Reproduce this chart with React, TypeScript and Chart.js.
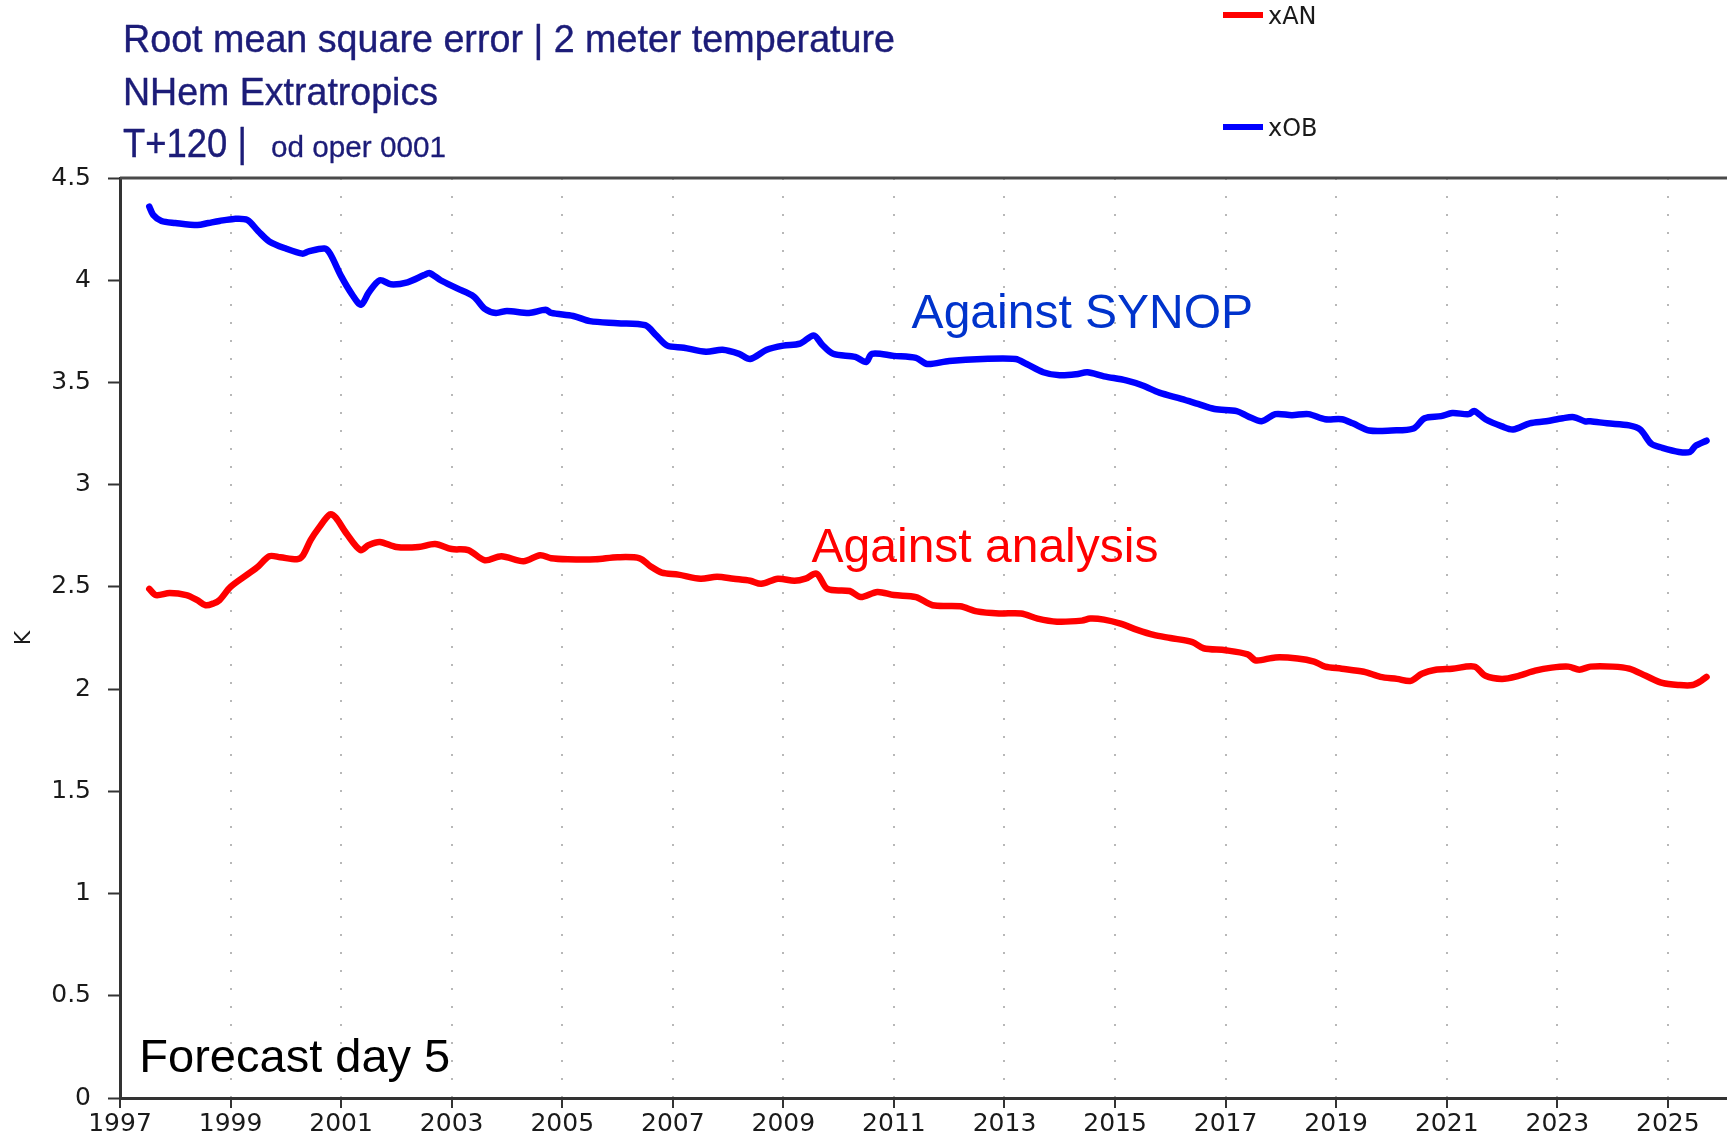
import { useEffect, useRef } from "react";
import { Chart, registerables } from "chart.js";

Chart.register(...registerables);

// ---- Data ----
const xobYears = [
  1997.53, 1997.6, 1997.75, 1998.0, 1998.4, 1998.6, 1998.8, 1999.06, 1999.3, 1999.5, 1999.7,
  2000.0, 2000.3, 2000.4, 2000.7, 2000.8, 2001.0, 2001.2, 2001.36, 2001.5, 2001.7, 2001.9,
  2002.2, 2002.5, 2002.6, 2002.8, 2003.1, 2003.4, 2003.6, 2003.8, 2004.0, 2004.4, 2004.7,
  2004.8, 2005.2, 2005.5, 2006.0, 2006.5, 2006.7, 2006.9, 2007.2, 2007.6, 2007.9, 2008.2,
  2008.4, 2008.7, 2009.0, 2009.3, 2009.55, 2009.7, 2009.9, 2010.3, 2010.5, 2010.6, 2011.0,
  2011.4, 2011.6, 2012.0, 2012.6, 2013.2, 2013.4, 2013.7, 2014.0, 2014.3, 2014.5, 2014.8,
  2015.2, 2015.5, 2015.8, 2016.2, 2016.5, 2016.8, 2017.2, 2017.4, 2017.65, 2017.9, 2018.2,
  2018.5, 2018.8, 2019.1, 2019.3, 2019.6, 2020.0, 2020.4, 2020.6, 2020.9, 2021.1, 2021.4,
  2021.5, 2021.7, 2022.0, 2022.2, 2022.5, 2022.8, 2023.1, 2023.3, 2023.5, 2023.6, 2023.9,
  2024.3, 2024.5, 2024.7, 2024.9, 2025.2, 2025.4, 2025.5, 2025.7,
];
const xobValues = [
  4.36, 4.32, 4.29, 4.28, 4.27, 4.28, 4.29, 4.30, 4.295, 4.24, 4.19,
  4.155, 4.13, 4.14, 4.155, 4.13, 4.02, 3.93, 3.88, 3.94, 4.0, 3.98,
  3.99, 4.025, 4.035, 4.0, 3.96, 3.92, 3.86, 3.84, 3.85, 3.84, 3.855,
  3.84, 3.825, 3.8, 3.79, 3.78, 3.73, 3.68, 3.67, 3.65, 3.66, 3.64,
  3.615, 3.66, 3.68, 3.69, 3.73, 3.685, 3.64, 3.625, 3.6, 3.64, 3.63,
  3.62, 3.59, 3.605, 3.615, 3.615, 3.59, 3.55, 3.535, 3.54, 3.55, 3.53,
  3.51, 3.485, 3.45, 3.42, 3.395, 3.37, 3.36, 3.335, 3.31, 3.345, 3.34,
  3.345, 3.32, 3.32, 3.3, 3.265, 3.265, 3.275, 3.325, 3.335, 3.35, 3.345,
  3.36, 3.32, 3.285, 3.27, 3.3, 3.31, 3.325, 3.33, 3.31, 3.31, 3.3,
  3.29, 3.27, 3.2, 3.18, 3.16, 3.16, 3.19, 3.215,
];

const xanYears = [
  1997.53, 1997.65, 1997.9, 1998.2, 1998.4, 1998.55, 1998.7, 1998.8, 1999.0, 1999.3, 1999.5,
  1999.7, 1999.9, 2000.2, 2000.3, 2000.45, 2000.6, 2000.8, 2000.9, 2001.1, 2001.35, 2001.5,
  2001.7, 2002.0, 2002.4, 2002.7, 2003.0, 2003.3, 2003.6, 2003.9, 2004.3, 2004.6, 2004.8,
  2005.1, 2005.6, 2006.0, 2006.4, 2006.6, 2006.8, 2007.1, 2007.5, 2007.8, 2008.1, 2008.4,
  2008.6, 2008.9, 2009.2, 2009.4, 2009.6, 2009.8, 2010.2, 2010.4, 2010.7, 2011.0, 2011.4,
  2011.7, 2012.2, 2012.5, 2012.9, 2013.3, 2013.6, 2013.95, 2014.4, 2014.55, 2014.8, 2015.1,
  2015.4, 2015.7, 2016.0, 2016.4, 2016.6, 2017.0, 2017.4, 2017.55, 2017.9, 2018.3, 2018.6,
  2018.8, 2019.1, 2019.5, 2019.8, 2020.1, 2020.35, 2020.55, 2020.8, 2021.1, 2021.5, 2021.7,
  2022.0, 2022.3, 2022.6, 2022.9, 2023.2, 2023.4, 2023.6, 2024.0, 2024.3, 2024.6, 2024.9,
  2025.2, 2025.45, 2025.6, 2025.7,
];
const xanValues = [
  2.49, 2.46, 2.47, 2.46, 2.435, 2.41, 2.42, 2.435, 2.5, 2.56, 2.6,
  2.65, 2.645, 2.635, 2.65, 2.73, 2.79, 2.855, 2.84, 2.76, 2.68, 2.705,
  2.72, 2.695, 2.695, 2.71, 2.685, 2.68, 2.63, 2.65, 2.625, 2.655, 2.64,
  2.635, 2.635, 2.645, 2.64, 2.6, 2.57, 2.56, 2.54, 2.55, 2.54, 2.53,
  2.515, 2.54, 2.53, 2.54, 2.565, 2.49, 2.48, 2.45, 2.475, 2.46, 2.45,
  2.41, 2.405, 2.38, 2.37, 2.37, 2.345, 2.33, 2.335, 2.345, 2.34, 2.32,
  2.29, 2.265, 2.25, 2.23, 2.2, 2.19, 2.17, 2.14, 2.155, 2.15, 2.135,
  2.11, 2.1, 2.085, 2.06, 2.05, 2.04, 2.075, 2.095, 2.1, 2.11, 2.065,
  2.05, 2.065, 2.09, 2.105, 2.11, 2.095, 2.11, 2.11, 2.1, 2.065, 2.03,
  2.02, 2.02, 2.04, 2.06,
];

const xTickYears = [
  1997, 1999, 2001, 2003, 2005, 2007, 2009, 2011, 2013, 2015, 2017, 2019, 2021, 2023, 2025,
];
const yTickValues = [0, 0.5, 1, 1.5, 2, 2.5, 3, 3.5, 4, 4.5];

const seriesNames = ["xAN", "xOB"];
const titleLine1 = "Root mean square error | 2 meter temperature";
const titleLine2 = "NHem Extratropics";
const titleLine3a = "T+120 |";
const titleLine3b = "od oper 0001";
const synopLabel = "Against SYNOP";
const analysisLabel = "Against analysis";
const forecastLabel = "Forecast day 5";
const yAxisTitle = "K";

const X_MIN = 1997;
const X_MAX = 2026.07;

const RED = "#ff0000";
const BLUE = "#0000ff";
const NAVY = "#1c1c78";
const TICK_FONT = "DejaVu Sans";

function drawText(
  ctx: CanvasRenderingContext2D,
  text: string,
  x: number,
  y: number,
  font: string,
  color: string,
  targetWidth?: number,
  strokeWidth?: number
) {
  ctx.save();
  ctx.font = font;
  const w = ctx.measureText(text).width;
  const sx = targetWidth ? targetWidth / w : 1;
  ctx.translate(x, y);
  ctx.scale(sx, 1);
  ctx.fillStyle = color;
  ctx.textAlign = "left";
  ctx.textBaseline = "alphabetic";
  ctx.fillText(text, 0, 0);
  if (strokeWidth) {
    ctx.strokeStyle = color;
    ctx.lineWidth = strokeWidth;
    ctx.lineJoin = "round";
    ctx.strokeText(text, 0, 0);
  }
  ctx.restore();
}

const overlayPlugin = {
  id: "overlay",
  afterDraw(chart: any) {
    const ctx: CanvasRenderingContext2D = chart.ctx;
    const area = chart.chartArea;
    const xs = chart.scales.x;
    const ys = chart.scales.y;

    // top frame line
    ctx.save();
    ctx.strokeStyle = "#4a4a4a";
    ctx.lineWidth = 3;
    ctx.beginPath();
    ctx.moveTo(area.left, area.top);
    ctx.lineTo(chart.width, area.top);
    ctx.stroke();
    ctx.restore();

    // title block
    const sans = "'Liberation Sans', Arial, sans-serif";
    drawText(ctx, titleLine1, 123, 52, `39px ${sans}`, NAVY, 772, 0.4);
    drawText(ctx, titleLine2, 123, 105, `39px ${sans}`, NAVY, 315, 0.4);
    drawText(ctx, titleLine3a, 123, 157, `40px ${sans}`, NAVY, 124, 0.4);
    drawText(ctx, titleLine3b, 271, 157, `30px ${sans}`, NAVY, 175, 0.3);

    // legend
    const legendItems = [
      { name: seriesNames[0], color: RED, y: 15 },
      { name: seriesNames[1], color: BLUE, y: 127 },
    ];
    legendItems.forEach((it) => {
      ctx.save();
      ctx.strokeStyle = it.color;
      ctx.lineWidth = 6;
      ctx.beginPath();
      ctx.moveTo(1223, it.y);
      ctx.lineTo(1263, it.y);
      ctx.stroke();
      ctx.restore();
      drawText(ctx, it.name, 1268, it.y + 9, `24px '${TICK_FONT}'`, "#1a1a1a");
    });

    // in-plot annotations (data coordinates)
    drawText(
      ctx,
      synopLabel,
      xs.getPixelForValue(2011.32),
      ys.getPixelForValue(3.767),
      `48px ${sans}`,
      "#0033cc"
    );
    drawText(
      ctx,
      analysisLabel,
      xs.getPixelForValue(2009.51),
      ys.getPixelForValue(2.62),
      `48px ${sans}`,
      RED
    );
    drawText(
      ctx,
      forecastLabel,
      xs.getPixelForValue(1997.35),
      ys.getPixelForValue(0.127),
      `47px ${sans}`,
      "#000"
    );
  },
};

export default function App() {
  const canvasRef = useRef<HTMLCanvasElement | null>(null);

  useEffect(() => {
    const canvas = canvasRef.current;
    if (!canvas) return;
    const chart = new Chart(canvas, {
      type: "line",
      data: {
        datasets: [
          {
            label: seriesNames[0],
            data: xanYears.map((x, i) => ({ x, y: xanValues[i] })),
            borderColor: RED,
            backgroundColor: RED,
            borderWidth: 6.5,
            pointRadius: 0,
            tension: 0.3,
            borderJoinStyle: "round",
            borderCapStyle: "round",
          },
          {
            label: seriesNames[1],
            data: xobYears.map((x, i) => ({ x, y: xobValues[i] })),
            borderColor: BLUE,
            backgroundColor: BLUE,
            borderWidth: 6.5,
            pointRadius: 0,
            tension: 0.3,
            borderJoinStyle: "round",
            borderCapStyle: "round",
          },
        ],
      },
      options: {
        animation: false,
        responsive: false,
        devicePixelRatio: 1,
        layout: { padding: { top: 178, left: 0, right: 0, bottom: 0 } },
        plugins: {
          legend: { display: false },
          title: { display: false },
          tooltip: { enabled: false },
        },
        scales: {
          x: {
            type: "linear",
            min: X_MIN,
            max: X_MAX,
            afterBuildTicks: (scale: any) => {
              scale.ticks = xTickYears.map((v) => ({ value: v }));
            },
            afterFit: (scale: any) => {
              scale.height = 40;
              scale.paddingLeft = 0;
              scale.paddingRight = 0;
            },
            ticks: {
              autoSkip: false,
              maxRotation: 0,
              padding: 1,
              color: "#1a1a1a",
              font: { family: TICK_FONT, size: 25 },
              callback: (v: any) => String(v),
            },
            grid: {
              display: true,
              drawOnChartArea: true,
              drawTicks: true,
              color: "#b8b8b8",
              lineWidth: 2,
              tickLength: 10,
              tickColor: "#333",
              tickWidth: 2,
            },
            border: { display: true, color: "#333", width: 3, dash: [2, 16] },
          },
          y: {
            type: "linear",
            min: 0,
            max: 4.5,
            afterBuildTicks: (scale: any) => {
              scale.ticks = yTickValues.map((v) => ({ value: v }));
            },
            afterFit: (scale: any) => {
              scale.width = 120;
            },
            ticks: {
              padding: 17,
              color: "#1a1a1a",
              font: { family: TICK_FONT, size: 25 },
              callback: (v: any) => String(v),
            },
            grid: {
              display: true,
              drawOnChartArea: false,
              drawTicks: true,
              tickLength: 12,
              tickColor: "#333",
              tickWidth: 2,
            },
            border: { display: true, color: "#333", width: 3 },
            title: {
              display: true,
              text: yAxisTitle,
              color: "#1a1a1a",
              font: { family: TICK_FONT, size: 22 },
              padding: { top: 11, bottom: 0 },
            },
          },
        },
      },
      plugins: [overlayPlugin],
    } as any);
    return () => chart.destroy();
  }, []);

  return (
    <div style={{ position: "absolute", left: 0, top: 0, width: 1727, height: 1138, background: "#fff" }}>
      <canvas ref={canvasRef} width={1727} height={1138} />
    </div>
  );
}
